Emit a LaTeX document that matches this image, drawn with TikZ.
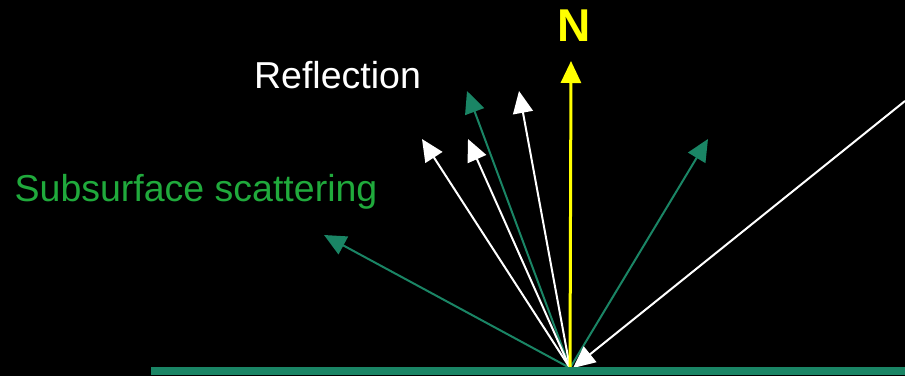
\documentclass[tikz,border=0pt]{standalone}
\usepackage{fontspec}
\setmainfont{Liberation Sans}
\usetikzlibrary{arrows.meta}
\definecolor{surfgreen}{HTML}{1A8565}
\definecolor{labelgreen}{HTML}{20AA3C}
\definecolor{normyellow}{HTML}{FFFF00}

\begin{document}
\begin{tikzpicture}[x=1pt, y=-1pt,
    ray/.style={line width=2pt, -{Triangle[length=22pt, width=20pt]}},
    txt/.style={inner sep=0, anchor=base, font=\fontsize{37.5}{42}\selectfont}]
    \fill[black] (0,0) rectangle (905,376);
    \useasboundingbox (0,0) rectangle (905,376);

    % hit point and ray ends
    \coordinate (hit) at (570,368);
    \coordinate (src) at (905,101);
    \coordinate (normtip) at (571,61);
    \coordinate (refla) at (519,91);
    \coordinate (reflb) at (468,139);
    \coordinate (reflc) at (422,139);
    \coordinate (subla) at (467,91);
    \coordinate (sublb) at (324,235);
    \coordinate (sublc) at (708,139);

    \draw[ray, surfgreen] (hit) -- (subla);
    \draw[ray, surfgreen] (hit) -- (sublb);
    \draw[ray, surfgreen] (hit) -- (sublc);
    \draw[ray, white] (hit) -- (refla);
    \draw[ray, white] (hit) -- (reflb);
    \draw[ray, white] (hit) -- (reflc);
    \draw[ray, normyellow, line width=3pt] (hit) -- (normtip);
    \draw[ray, white] (src) -- ([xshift=3pt]hit);

    \draw[surfgreen, line width=8pt] (151,371) -- (905,371);

    \node[txt, normyellow, font=\fontsize{46}{50}\selectfont\bfseries] (nlabel) at (574,41) {N};
    \node[txt, white] (refllabel) at (337.5,88) {Reflection};
    \node[txt, labelgreen] (sublabel) at (196,201) {Subsurface scattering};
\end{tikzpicture}
\end{document}
